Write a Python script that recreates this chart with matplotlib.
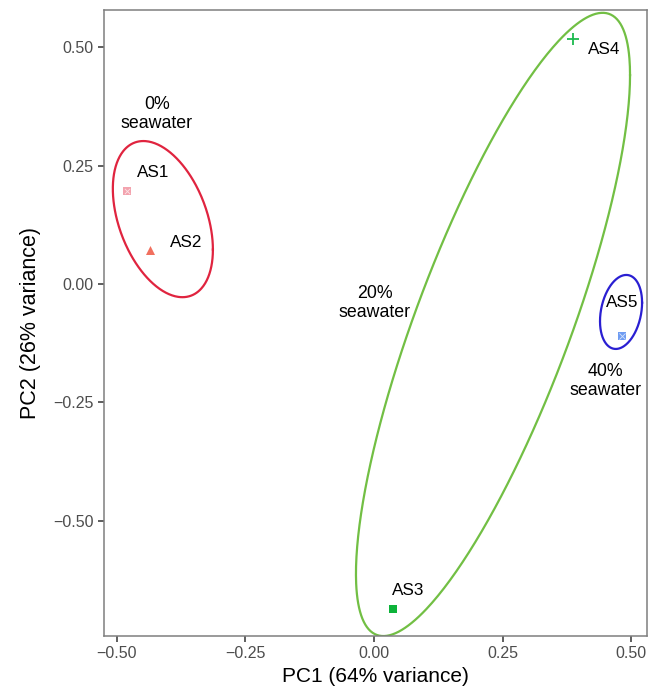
import numpy as np
import matplotlib
matplotlib.use("Agg")
import matplotlib.pyplot as plt

plt.rcParams['font.family'] = ['Liberation Sans', 'DejaVu Sans']

# PCA scores per sample
samples = ['AS1', 'AS2', 'AS3', 'AS4', 'AS5']
pc1 = [-0.481, -0.436, 0.037, 0.387, 0.482]
pc2 = [0.197, 0.072, -0.687, 0.518, -0.110]
group = ['0%', '0%', '20%', '20%', '40%']

# label anchors (AS5 is centred, the rest left-aligned)
label_x = [-0.461, -0.397, 0.035, 0.416, 0.482]
label_y = [0.235, 0.087, -0.647, 0.495, -0.040]
label_ha = ['left', 'left', 'left', 'left', 'center']

# ellipses per group: centre, x half-extent, y half-extent, correlation
ell_groups = ['0%', '20%', '40%']
ell_cx = [-0.4105, 0.2315, 0.4805]
ell_cy = [0.137, -0.0856, -0.0592]
ell_wx = [0.0973, 0.2665, 0.0409]
ell_hy = [0.165, 0.6586, 0.0782]
ell_r = [-0.39, 0.80, 0.25]
ell_colors = ['#E0243F', '#72BF44', '#2A1FD2']

# group captions
cap_x = [-0.422, 0.002, 0.451]
cap_y = [0.359, -0.040, -0.205]

point_colors = ['#F3A3AE', '#F1705F', '#0DB33A', '#1DBA4E', '#6F9CF2']
point_markers = ['s', '^', 's', '+', 's']
point_sizes = [28, 42, 36, 80, 40]

fig = plt.figure(figsize=(6.59, 6.93), dpi=100)
ax = fig.add_axes([0.1578, 0.0823, 0.824, 0.9033])

t = np.linspace(0, 2 * np.pi, 400)
for cx, cy, wx, hy, r, c in zip(ell_cx, ell_cy, ell_wx, ell_hy, ell_r, ell_colors):
    x = cx + wx * np.cos(t)
    y = cy + hy * (r * np.cos(t) + np.sqrt(1 - r ** 2) * np.sin(t))
    ax.plot(x, y, color=c, lw=1.6, zorder=2)

for i in range(len(samples)):
    m = point_markers[i]
    if m == '+':
        ax.scatter(pc1[i], pc2[i], marker='+', s=point_sizes[i], color=point_colors[i],
                   linewidths=1.3, zorder=3)
    else:
        ax.scatter(pc1[i], pc2[i], marker=m, s=point_sizes[i], color=point_colors[i],
                   linewidths=0, zorder=3)
    if i in (0, 4):
        # square-cross look
        ax.scatter(pc1[i], pc2[i], marker='x', s=point_sizes[i] * 0.5, color='white',
                   linewidths=0.6, zorder=4, alpha=0.7)

for i, s in enumerate(samples):
    ax.text(label_x[i], label_y[i], s, fontsize=12.3, ha=label_ha[i], va='center',
            color='black')

for g, x, y in zip(ell_groups, cap_x, cap_y):
    ax.text(x, y, g + '\nseawater', fontsize=12.8, ha='center', va='center',
            linespacing=1.2)

ax.set_xlim(-0.525, 0.531)
ax.set_ylim(-0.744, 0.579)
ax.set_xticks([-0.50, -0.25, 0.00, 0.25, 0.50])
ax.set_yticks([-0.50, -0.25, 0.00, 0.25, 0.50])
ax.set_xticklabels(['\u22120.50', '\u22120.25', '0.00', '0.25', '0.50'])
ax.set_yticklabels(['\u22120.50', '\u22120.25', '0.00', '0.25', '0.50'])
ax.tick_params(axis='both', labelsize=11.5, labelcolor='#4D4D4D', color='#333333',
               length=4, width=1.1)
for sp in ax.spines.values():
    sp.set_color('#7F7F7F')
    sp.set_linewidth(1.1)

ax.set_xlabel('PC1 (64% variance)', fontsize=15, labelpad=4)
ax.set_ylabel('PC2 (26% variance)', fontsize=15.5, labelpad=9)

fig.savefig('out.png', dpi=100)
